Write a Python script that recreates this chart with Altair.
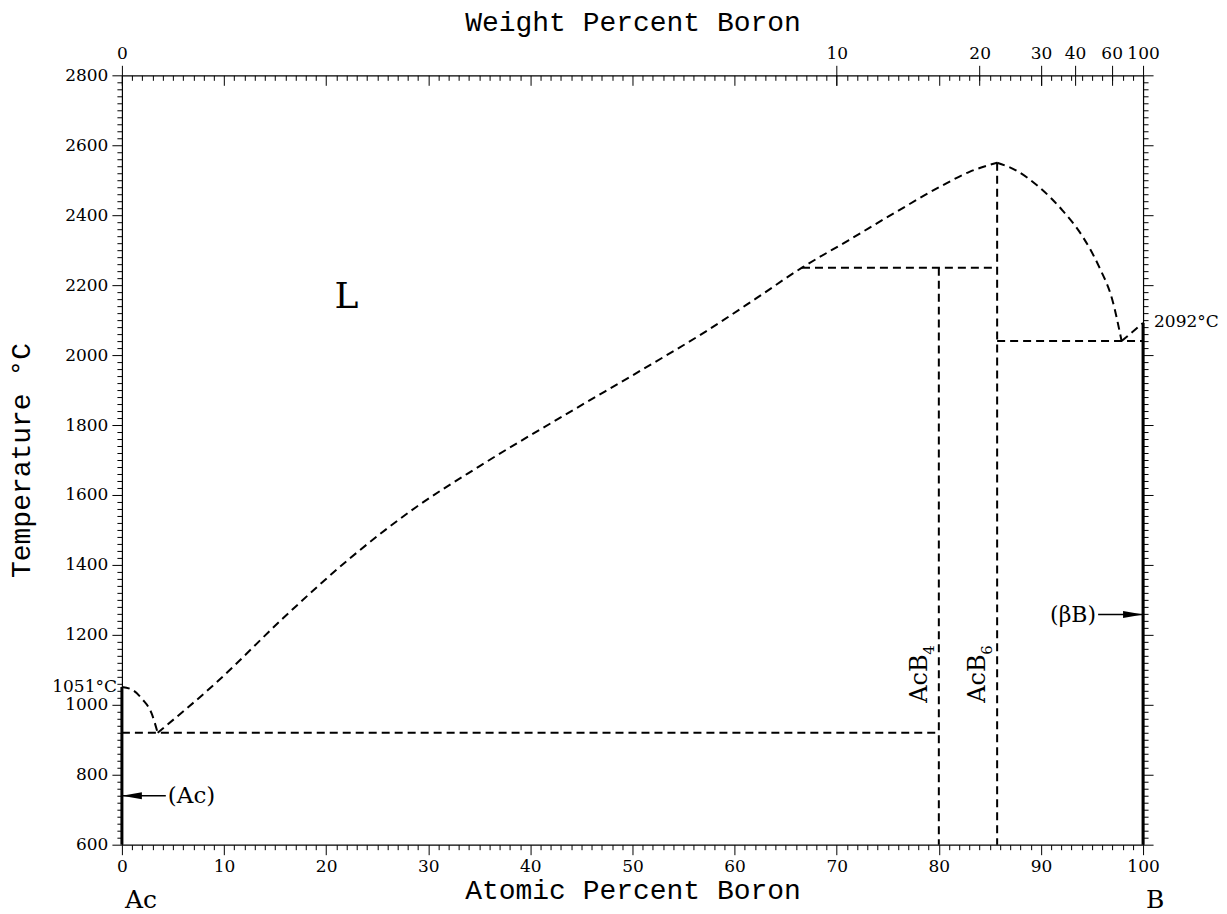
import altair as alt
import pandas as pd

# ------------------------------------------------------------------ data
# atomic masses, used only to place the weight-percent axis
MASS_AC = 227.0
MASS_B = 10.81

# phase boundaries: atomic percent B / temperature (degC)
ac_liquidus_at = [0.0, 1.0, 2.0, 2.9, 3.5]
ac_liquidus_T = [1051, 1043, 1016, 976, 920]

liquidus_at = [3.5, 9.3, 15.8, 22.3, 28.8, 35.0, 44.2, 50.7, 57.2, 62.0,
               66.6, 71.2, 75.8, 80.4, 83.0, 85.71]
liquidus_T = [920, 1065, 1248, 1418, 1565, 1682, 1843, 1954, 2068, 2160,
              2250, 2329, 2409, 2486, 2524, 2550]

b_liquidus_at = [85.71, 87.5, 89.8, 92.1, 94.1, 95.7, 97.0, 97.9]
b_liquidus_T = [2550, 2529, 2481, 2414, 2338, 2252, 2157, 2040]

b_side_at = [97.9, 100.0]
b_side_T = [2040, 2092]

eutectic1_at = [0.0, 80.0]
eutectic1_T = [920, 920]
peritectic_at = [66.6, 85.71]
peritectic_T = [2250, 2250]
acb4_at = [80.0, 80.0]
acb4_T = [2250, 600]
acb6_at = [85.71, 85.71]
acb6_T = [2550, 600]
eutectic2_at = [85.71, 100.0]
eutectic2_T = [2040, 2040]

# pure elements (solid)
pure_at = [0.0, 100.0]
pure_T_low = [600, 600]
pure_T_high = [1051, 2092]

# axes
at_ticks = list(range(0, 101))
T_ticks = list(range(600, 2801, 20))
wt_ticks = [0, 10, 20, 30, 40, 60, 100]

# labels
phase_text = ["L"]
phase_at = [22.0]
phase_T = [2166]

comp_text = ["AcB", "AcB"]
comp_sub = ["4", "6"]
comp_at = [80.0, 85.71]
comp_T = [1006, 1006]

end_text = ["Ac", "B"]
end_at = [0.0, 100.0]

melt_left_text = ["1051°C"]
melt_left_at = [0.0]
melt_left_T = [1051]
melt_right_text = ["2092°C"]
melt_right_at = [100.0]
melt_right_T = [2094]

arrowL_text = ["(Ac)"]
arrowL_text_at = [4.5]
arrowL_T = [740]
arrowL_from = [0.0]
arrowL_to = [4.3]
arrowL_head = [0.98]

arrowR_text = ["(βB)"]
arrowR_text_at = [95.4]
arrowR_T = [1258]
arrowR_from = [95.6]
arrowR_to = [100.0]
arrowR_head = [99.02]

# ------------------------------------------------------------------ tables
curved = [
    ("ac_liq", ac_liquidus_at, ac_liquidus_T),
    ("liq", liquidus_at, liquidus_T),
    ("b_liq", b_liquidus_at, b_liquidus_T),
]
straight = [
    ("b_side", b_side_at, b_side_T),
    ("eut1", eutectic1_at, eutectic1_T),
    ("perit", peritectic_at, peritectic_T),
    ("acb4", acb4_at, acb4_T),
    ("acb6", acb6_at, acb6_T),
    ("eut2", eutectic2_at, eutectic2_T),
]


def to_df(segs):
    rows = []
    for name, xs, ts in segs:
        for i, (a, t) in enumerate(zip(xs, ts)):
            rows.append({"seg": name, "i": i, "at": a, "T": t})
    return pd.DataFrame(rows)


curved_df = to_df(curved)
straight_df = to_df(straight)

pure_df = pd.DataFrame({"at": pure_at, "T0": pure_T_low, "T1": pure_T_high})
wt_pos = [100 * (w / MASS_B) / ((w / MASS_B) + ((100 - w) / MASS_AC)) for w in wt_ticks]

W, H = 1022, 770
XS = alt.Scale(domain=[0, 100], nice=False, zero=False)
YS = alt.Scale(domain=[600, 2800], nice=False, zero=False)

tick_x = {"condition": {"test": "datum.value % 10 === 0", "value": 10}, "value": 5}
tick_y = {"condition": {"test": "datum.value % 200 === 0", "value": 10}, "value": 5}
wt_label_expr = ("format(round(100*datum.value*%g/(datum.value*%g+(100-datum.value)*%g)), 'd')"
                 % (MASS_B, MASS_B, MASS_AC))

SERIF = "DejaVu Serif"
MONO = "Liberation Mono"

# dashed curved phase boundaries + main axes
dashed_curves = alt.Chart(curved_df).mark_line(
    color="black", strokeWidth=2, strokeDash=[8, 5], interpolate="monotone"
).encode(
    x=alt.X("at:Q", scale=XS, axis=alt.Axis(
        orient="bottom", values=at_ticks, tickSize=tick_x, format="d",
        labelExpr="datum.value % 10 === 0 ? datum.label : ''",
        labelPadding=4, title="Atomic Percent Boron", titleY=54,
        titleBaseline="alphabetic")),
    y=alt.Y("T:Q", scale=YS, axis=alt.Axis(
        orient="left", values=T_ticks, tickSize=tick_y, format="d",
        labelExpr="datum.value % 200 === 0 ? datum.label : ''",
        labelPadding=4, title="Temperature °C", titleX=-100, titleY=H / 2,
        titleBaseline="middle")),
    detail="seg:N",
    order="i:Q",
)

dashed_lines = alt.Chart(straight_df).mark_line(
    color="black", strokeWidth=2, strokeDash=[8, 5]
).encode(
    x=alt.X("at:Q", scale=XS, axis=None),
    y=alt.Y("T:Q", scale=YS, axis=None),
    detail="seg:N",
    order="i:Q",
)

# pure elements + weight-percent axis on top + right axis
pure = alt.Chart(pure_df).mark_rule(color="black", strokeWidth=3).encode(
    x=alt.X("at:Q", scale=XS, axis=alt.Axis(
        orient="top", values=wt_pos, tickSize=10, labelExpr=wt_label_expr,
        labelPadding=3, title="Weight Percent Boron", titleY=-45,
        titleBaseline="alphabetic")),
    y=alt.Y("T0:Q", scale=YS, axis=alt.Axis(
        orient="right", values=T_ticks, tickSize=tick_y, labels=False, title=None)),
    y2="T1:Q",
)

# phase label "L" (carries the inner at% ticks on the top edge)
phase = alt.Chart(pd.DataFrame({"t": phase_text, "at": phase_at, "T": phase_T})).mark_text(
    font=SERIF, fontSize=36, color="black", align="center", baseline="middle"
).encode(
    x=alt.X("at:Q", scale=XS, axis=alt.Axis(
        orient="bottom", offset=-H, values=at_ticks, tickSize=tick_x,
        labels=False, domain=False, title=None)),
    y=alt.Y("T:Q", scale=YS, axis=None),
    text="t:N",
)

# arrow shafts (carry inner wt% ticks on the top edge)
shafts_df = pd.DataFrame({
    "x0": arrowL_from + arrowR_from, "x1": arrowL_to + arrowR_to,
    "T": arrowL_T + arrowR_T})
shafts = alt.Chart(shafts_df).mark_rule(color="black", strokeWidth=1.5).encode(
    x=alt.X("x0:Q", scale=XS, axis=alt.Axis(
        orient="bottom", offset=-H, values=wt_pos, tickSize=10,
        labels=False, domain=False, title=None)),
    x2="x1:Q",
    y=alt.Y("T:Q", scale=YS, axis=None),
)

headL = alt.Chart(pd.DataFrame({"at": arrowL_head, "T": arrowL_T})).mark_point(
    shape="M -1 0 L 1 -0.35 L 1 0.35 Z", size=400, filled=True, color="black", opacity=1
).encode(x=alt.X("at:Q", scale=XS, axis=None), y=alt.Y("T:Q", scale=YS, axis=None))

headR = alt.Chart(pd.DataFrame({"at": arrowR_head, "T": arrowR_T})).mark_point(
    shape="M 1 0 L -1 -0.35 L -1 0.35 Z", size=400, filled=True, color="black", opacity=1
).encode(x=alt.X("at:Q", scale=XS, axis=None), y=alt.Y("T:Q", scale=YS, axis=None))

textL = alt.Chart(pd.DataFrame({"t": arrowL_text, "at": arrowL_text_at, "T": arrowL_T})).mark_text(
    font=SERIF, fontSize=23, color="black", align="left", baseline="middle"
).encode(x=alt.X("at:Q", scale=XS, axis=None), y=alt.Y("T:Q", scale=YS, axis=None), text="t:N")

textR = alt.Chart(pd.DataFrame({"t": arrowR_text, "at": arrowR_text_at, "T": arrowR_T})).mark_text(
    font=SERIF, fontSize=22, color="black", align="right", baseline="middle"
).encode(x=alt.X("at:Q", scale=XS, axis=None), y=alt.Y("T:Q", scale=YS, axis=None), text="t:N")

meltL = alt.Chart(pd.DataFrame({"t": melt_left_text, "at": melt_left_at, "T": melt_left_T})).mark_text(
    font=SERIF, fontSize=17, color="black", align="right", baseline="middle", dx=-5
).encode(x=alt.X("at:Q", scale=XS, axis=None), y=alt.Y("T:Q", scale=YS, axis=None), text="t:N")

meltR = alt.Chart(pd.DataFrame({"t": melt_right_text, "at": melt_right_at, "T": melt_right_T})).mark_text(
    font=SERIF, fontSize=17, color="black", align="left", baseline="middle", dx=11
).encode(x=alt.X("at:Q", scale=XS, axis=None), y=alt.Y("T:Q", scale=YS, axis=None), text="t:N")

comp_df = pd.DataFrame({"t": comp_text, "s": comp_sub, "at": comp_at, "T": comp_T})
comp = alt.Chart(comp_df).mark_text(
    font=SERIF, fontSize=24, color="black", align="left", baseline="alphabetic",
    angle=270, dy=-12
).encode(x=alt.X("at:Q", scale=XS, axis=None), y=alt.Y("T:Q", scale=YS, axis=None), text="t:N")
comp_s = alt.Chart(comp_df).mark_text(
    font=SERIF, fontSize=15, color="black", align="left", baseline="alphabetic",
    angle=270, dx=48, dy=-5
).encode(x=alt.X("at:Q", scale=XS, axis=None), y=alt.Y("T:Q", scale=YS, axis=None), text="s:N")

ends = alt.Chart(pd.DataFrame({"t": end_text, "at": end_at})).mark_text(
    font=SERIF, fontSize=25, color="black", align="left", baseline="alphabetic", dx=3
).encode(x=alt.X("at:Q", scale=XS, axis=None), y=alt.value(H + 63), text="t:N")

chart = alt.layer(
    dashed_curves, dashed_lines, pure, phase, shafts, headL, headR, textL, textR,
    meltL, meltR, comp, comp_s, ends
).resolve_axis(x="independent", y="independent").properties(
    width=W, height=H, padding=0
).configure_view(stroke=None).configure_axis(
    grid=False, domainColor="black", tickColor="black", labelColor="black",
    titleColor="black", domainWidth=1.2, tickWidth=1, labelFont=SERIF,
    labelFontSize=17, titleFont=MONO, titleFontSize=28, titleFontWeight="normal",
    labelOverlap=False, labelFlush=False
)

chart.save("out.html", embed_options={"renderer": "svg", "actions": False})
